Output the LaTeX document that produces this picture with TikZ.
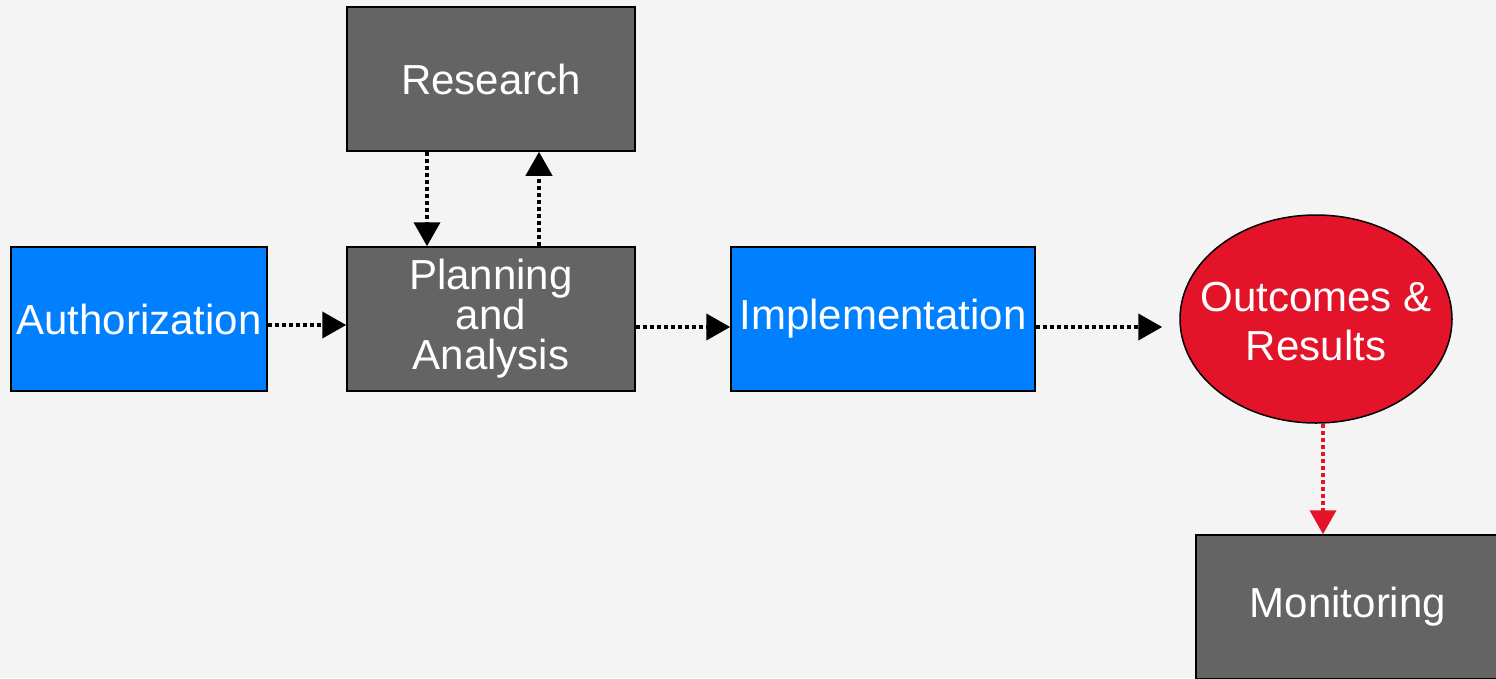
\documentclass[tikz,border=0pt]{standalone}
\usepackage{fontspec}
\setmainfont{Liberation Sans}
\usetikzlibrary{arrows.meta,shapes.geometric}
\definecolor{bg}{HTML}{F4F4F4}
\definecolor{boxgray}{HTML}{646464}
\definecolor{boxblue}{HTML}{0080FF}
\definecolor{boxred}{HTML}{E31329}
\tikzset{
  card/.style={draw=black, line width=1.5pt, rectangle, inner sep=0pt,
    minimum height=144pt, text=white, align=center,
    font=\fontsize{42}{40}\selectfont},
  graybox/.style={card, fill=boxgray, minimum width=288pt},
  bluebox/.style={card, fill=boxblue},
  oval/.style={ellipse, draw=black, line width=1.5pt, fill=boxred, inner sep=0pt,
    minimum width=272pt, minimum height=208pt},
  ovaltext/.style={text=white, align=center, inner sep=0pt,
    font=\fontsize{42}{49}\selectfont},
  flow/.style={line width=4pt, dash pattern=on 4pt off 3pt,
    -{Triangle[length=24pt,width=26pt]}},
}
\begin{document}
\begin{tikzpicture}[x=1pt,y=-1pt]
  \fill[bg] (0,0) rectangle (1496,678);
  \useasboundingbox (0,0) rectangle (1496,678);

  \node[graybox] (res) at (491,79) {Research};
  \node[bluebox, minimum width=256pt] (auth) at (139,319) {Authorization};
  \node[graybox] (plan) at (491,319) {Planning\\and\\Analysis};
  \node[bluebox, minimum width=304pt] (impl) at (883,319) {Implementation};
  \node[oval] (out) at (1316,319) {};
  \node[ovaltext] (outtext) at ([yshift=-3pt]out.center) {Outcomes \&\\Results};
  \node[graybox, minimum width=304pt] (mon) at (1348,607) {Monitoring};

  \draw[flow] ([yshift=-6pt]auth.east) -- ([yshift=-6pt]plan.west);
  \draw[flow] ([yshift=-8pt]plan.east) -- ([yshift=-8pt]impl.west);
  \draw[flow, shorten >=17pt] ([yshift=-8pt]impl.east) -- ([yshift=-8pt]out.west);
  \draw[flow] ([xshift=-64pt]res.south) -- ([xshift=-64pt]plan.north);
  \draw[flow] ([xshift=48pt]plan.north) -- ([xshift=48pt]res.south);
  \coordinate (drop) at ([xshift=7pt]out.south);
  \draw[flow, boxred] (drop) -- (drop |- mon.north);
\end{tikzpicture}
\end{document}
